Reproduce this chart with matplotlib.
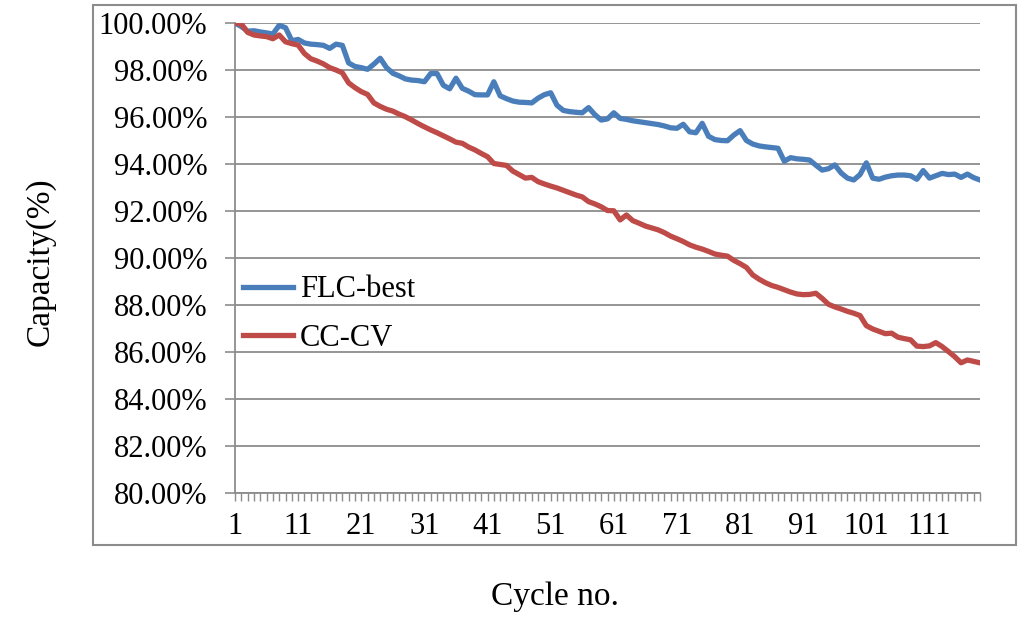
import numpy as np
import matplotlib
matplotlib.use('Agg')
import matplotlib.pyplot as plt
from matplotlib.patches import Rectangle
from matplotlib.ticker import FuncFormatter

# Данные: ёмкость (%) по номеру цикла
cycles = list(range(1, 120))

flc_best = [
    100.00, 99.85, 99.65, 99.67, 99.62, 99.58, 99.53, 99.90, 99.80, 99.25,
    99.30, 99.15, 99.10, 99.08, 99.05, 98.92, 99.10, 99.05, 98.30, 98.15,
    98.10, 98.03, 98.25, 98.50, 98.10, 97.86, 97.75, 97.62, 97.57, 97.55,
    97.50, 97.85, 97.85, 97.35, 97.20, 97.65, 97.22, 97.10, 96.95, 96.94,
    96.94, 97.50, 96.90, 96.78, 96.68, 96.63, 96.62, 96.60, 96.80, 96.95,
    97.03, 96.50, 96.28, 96.23, 96.20, 96.18, 96.40, 96.10, 95.87, 95.92,
    96.18, 95.94, 95.90, 95.84, 95.80, 95.76, 95.72, 95.68, 95.62, 95.54,
    95.52, 95.69, 95.37, 95.33, 95.73, 95.18, 95.04, 95.00, 94.99, 95.23,
    95.42, 95.00, 94.85, 94.77, 94.73, 94.70, 94.67, 94.12, 94.27, 94.22,
    94.20, 94.17, 93.95, 93.74, 93.80, 93.96, 93.62, 93.40, 93.32, 93.55,
    94.05, 93.40, 93.35, 93.44, 93.50, 93.53, 93.53, 93.50, 93.35, 93.72,
    93.40, 93.50, 93.60, 93.55, 93.57, 93.43, 93.57, 93.42, 93.32,
]

cc_cv = [
    100.00, 99.96, 99.60, 99.49, 99.45, 99.42, 99.33, 99.49, 99.20, 99.12,
    99.06, 98.70, 98.48, 98.38, 98.26, 98.10, 98.00, 97.88, 97.45, 97.25,
    97.08, 96.96, 96.60, 96.45, 96.33, 96.25, 96.12, 96.01, 95.87, 95.72,
    95.58, 95.45, 95.33, 95.20, 95.07, 94.93, 94.88, 94.72, 94.60, 94.45,
    94.31, 94.02, 93.98, 93.94, 93.70, 93.55, 93.40, 93.43, 93.25, 93.15,
    93.06, 92.98, 92.88, 92.78, 92.68, 92.60, 92.40, 92.30, 92.18, 92.02,
    92.01, 91.62, 91.83, 91.59, 91.48, 91.36, 91.28, 91.20, 91.08, 90.93,
    90.82, 90.70, 90.56, 90.46, 90.38, 90.28, 90.17, 90.12, 90.08, 89.90,
    89.76, 89.60, 89.28, 89.10, 88.95, 88.83, 88.75, 88.65, 88.55, 88.47,
    88.44, 88.45, 88.50, 88.28, 88.03, 87.92, 87.83, 87.73, 87.65, 87.55,
    87.12, 86.98, 86.88, 86.78, 86.80, 86.63, 86.57, 86.52, 86.25, 86.23,
    86.26, 86.40, 86.23, 86.02, 85.80, 85.54, 85.66, 85.60, 85.54,
]

y_ticks = list(range(80, 101, 2))
label_step = 10

plt.rcParams['font.family'] = ['Liberation Serif', 'DejaVu Serif']

fig = plt.figure(figsize=(10.24, 6.2), dpi=100)
W, H = 1024, 620

# рамка области диаграммы
fig.patches.append(Rectangle((93 / W, 1 - 545 / H), (1016 - 93) / W, (545 - 5) / H,
                             transform=fig.transFigure, fill=False,
                             edgecolor='#8c8c8c', linewidth=1.5))

ax = fig.add_axes([235 / W, 1 - 493 / H, (980 - 235) / W, (493 - 23) / H])

ax.plot(cycles, flc_best, color='#4a7ebb', linewidth=3.8, label='FLC-best',
        solid_joinstyle='round', zorder=3)
ax.plot(cycles, cc_cv, color='#be4b48', linewidth=3.8, label='CC-CV',
        solid_joinstyle='round', zorder=3)

ax.set_xlim(cycles[0], cycles[-1])
ax.set_ylim(y_ticks[0], y_ticks[-1])

ax.set_xticks(cycles)
ax.set_xticklabels([str(c) if (c - 1) % label_step == 0 else '' for c in cycles])
ax.set_yticks(y_ticks)
ax.yaxis.set_major_formatter(FuncFormatter(lambda v, p: f'{v:.2f}%'))

ax.tick_params(axis='x', length=6, width=1, color='#8c8c8c', pad=8, labelsize=22)
ax.tick_params(axis='y', length=7, width=1.2, color='#8c8c8c', pad=13, labelsize=22)

ax.grid(axis='y', color='#8c8c8c', linewidth=1.3)
ax.set_axisbelow(True)
for s in ['top', 'right']:
    ax.spines[s].set_visible(False)
for s in ['left', 'bottom']:
    ax.spines[s].set_color('#8c8c8c')
    ax.spines[s].set_linewidth(1.3)

leg = ax.legend(loc='upper left', bbox_to_anchor=(0.0107, 0.463), frameon=False,
                fontsize=22, handlelength=1.63, handletextpad=0.23,
                labelspacing=0.64, borderaxespad=0, borderpad=0)

fig.text(40 / W, 1 - 262 / H, 'Capacity(%)', rotation=90, ha='center', va='center',
         fontsize=24)
fig.text(555 / W, 1 - 597 / H, 'Cycle no.', ha='center', va='center', fontsize=24)

fig.savefig('out.png', dpi=100)
